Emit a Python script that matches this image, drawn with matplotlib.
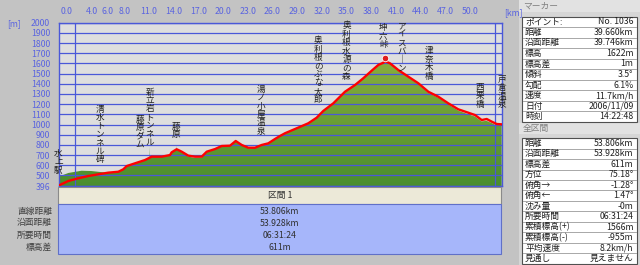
import numpy as np
import matplotlib
matplotlib.use('Agg')
import matplotlib.pyplot as plt
from matplotlib.patches import Rectangle
from matplotlib.colors import LinearSegmentedColormap
import matplotlib.transforms as mtrans

plt.rcParams['font.family'] = ['Noto Sans CJK JP', 'DejaVu Sans']

# GPS track (red) - distance km / elevation m
track_km = [0.0, 1.19, 2.41, 3.62, 4.84, 6.05, 7.27, 7.87, 8.29, 9.30, 10.51, 11.32, 12.54,
            13.55, 13.75, 14.36, 14.97, 15.77, 16.59, 17.40, 18.01, 19.02, 19.83, 20.84,
            21.53, 22.26, 23.06, 23.88, 24.69, 25.49, 26.31, 26.91, 27.52, 28.74, 30.35,
            31.37, 32.17, 33.39, 34.81, 36.03, 37.03, 38.06, 38.86, 39.47, 39.66, 40.28,
            41.29, 42.50, 43.72, 44.93, 46.15, 47.36, 48.58, 49.79, 50.61, 51.42, 52.03,
            52.64, 53.24, 53.80]
track_m = [400, 445, 472, 494, 511, 527, 536, 560, 592, 619, 651, 684, 684,
           700, 727, 757, 733, 694, 684, 684, 733, 759, 789, 792,
           838, 799, 772, 772, 799, 815, 858, 887, 914, 956, 1012,
           1067, 1133, 1208, 1322, 1388, 1454, 1529, 1585, 1607, 1622, 1601,
           1535, 1470, 1405, 1322, 1273, 1208, 1149, 1116, 1093, 1044, 1054,
           1028, 1005, 1002]

# terrain profile (green fill)
ground_km = [0, 1.2, 2.8, 4.0, 5.6, 6.9, 7.9, 8.3, 9.3, 10.5, 11.0, 11.03, 11.06, 11.3, 12.5,
             13.55, 13.75, 14.33, 14.36, 14.39, 14.97, 15.77, 16.59, 17.4, 18.0, 19.0, 19.8,
             20.8, 21.5, 22.3, 23.1, 23.9, 24.7, 25.5, 26.3, 26.9, 27.5, 28.7, 30.35, 31.4,
             32.2, 33.4, 34.8, 36.0, 37.0, 38.1, 38.9, 39.5, 39.66, 40.3, 41.3, 42.5, 43.7,
             44.9, 46.2, 47.4, 48.6, 49.8, 50.6, 51.4, 52.0, 52.6, 53.2, 53.85]
ground_m = [487, 524, 546, 543, 529, 534, 558, 590, 617, 648, 670, 782, 670, 680, 680,
            697, 724, 750, 789, 750, 728, 684, 672, 674, 728, 757, 787,
            790, 835, 795, 765, 768, 797, 812, 855, 884, 910, 952, 1008, 1063,
            1128, 1204, 1318, 1384, 1450, 1525, 1580, 1603, 1618, 1595, 1528, 1462, 1396,
            1313, 1262, 1196, 1135, 1100, 1078, 1030, 1036, 1015, 990, 985]

ytick_vals = [396] + list(range(500, 2001, 100))
xlabel_km = [1.0, 4, 6, 8, 11, 14, 17, 20, 23, 26, 29, 32, 35, 38, 41, 44, 47, 50]
xlabel_txt = ['0.0', '4.0', '6.0', '8.0', '11.0', '14.0', '17.0', '20.0', '23.0', '26.0',
              '29.0', '32.0', '35.0', '38.0', '41.0', '44.0', '47.0', '50.0']
xgrid_km = [2, 4, 6, 8, 11, 14, 17, 20, 23, 26, 29, 32, 35, 38, 41, 44, 47, 50, 53]

# place names: label, km, top pixel
place_names = ['水上駅', '清水トンネル碑', '藤原ダム', '新立岩トンネル', '藤原', '湯ノ小屋温泉',
               '奥利根のぶな太郎', '奥利根水源の森', '坤六峠', 'アイス｜ン', '津奈木橋', '西栗橋', '戸倉温泉']
place_names[9] = 'アイスバ｜ン'
place_km = [0.0, 5.04, 9.9, 11.1, 14.3, 24.6, 31.57, 35.0, 39.47, 41.7, 45.05, 51.2, 53.9]
place_top = [149, 105, 115, 88, 122, 85, 36.7, 21.7, 23.3, 21.7, 46.7, 83.3, 75]

peak_km = 39.66
peak_m = 1622

section_rows = ['直線距離', '沿面距離', '所要時間', '標高差']
section_vals = ['53.806km', '53.928km', '06:31:24', '611m']

marker_labels = ['ポイント:', '距離', '沿面距離', '標高', '標高差', '傾斜', '勾配', '速度', '日付', '時刻']
marker_vals = ['No. 1036', '39.660km', '39.746km', '1622m', '1m', '3.5°', '6.1%', '11.7km/h',
               '2006/11/09', '14:22:48']
total_labels = ['距離', '沿面距離', '標高差', '方位', '俯角→', '俯角←', '沈み量', '所要時間',
                '累積標高(+)', '累積標高(-)', '平均速度', '見通し']
total_vals = ['53.806km', '53.928km', '611m', '75.18°', '-1.28°', '1.47°', '-0m', '06:31:24',
              '1566m', '-955m', '8.2km/h', '見えません']

W, H = 640, 265
fig = plt.figure(figsize=(6.4, 2.65), dpi=100, facecolor='#c3c3c3')


def rect(x0, y0, x1, y1, **kw):
    fig.add_artist(Rectangle((x0 / W, 1 - y1 / H), (x1 - x0) / W, (y1 - y0) / H,
                             transform=fig.transFigure, **kw))


def txt(x, y, s, **kw):
    fig.text(x / W, 1 - y / H, s, **kw)


blue = '#4a58d8'
lbl_blue = '#5a64e0'

ax = fig.add_axes([58.5 / W, 1 - 186 / H, (501.7 - 58.5) / W, (186 - 22.7) / H])
ax.set_facecolor('#dedede')
ax.set_xlim(0, 53.85)
ax.set_ylim(396, 2000)

# green gradient fill clipped to the profile
poly = ax.fill_between(ground_km, ground_m, 396, facecolor='none', edgecolor='none')
cmap = LinearSegmentedColormap.from_list('g', ['#4a8e2e', '#6a9e34', '#8aae3e'])
grad = np.linspace(0, 1, 256).reshape(-1, 1)
im = ax.imshow(grad, cmap=cmap, extent=[0, 53.85, 396, 1650], origin='lower',
               aspect='auto', zorder=1)
im.set_clip_path(poly.get_paths()[0], ax.transData)

ax.plot(track_km, track_m, color='#ff0000', lw=1.7, zorder=4, solid_joinstyle='round')
ax.scatter([peak_km], [peak_m + 35], s=22, color='#e02020', edgecolor='#ffffff', lw=0.6, zorder=5)

ax.set_yticks(ytick_vals)
ax.set_yticklabels([str(v) for v in ytick_vals])
ax.xaxis.tick_top()
ax.set_xticks(xlabel_km)
ax.set_xticklabels(xlabel_txt)
ax.set_xticks(xgrid_km, minor=True)
ax.tick_params(axis='both', which='both', length=0, labelsize=6.3, colors=lbl_blue)
ax.tick_params(axis='y', pad=6)
ax.tick_params(axis='x', pad=5)
ax.grid(which='major', axis='y', color=blue, lw=0.9, zorder=3)
ax.grid(which='minor', axis='x', color=blue, lw=0.9, zorder=3)
ax.grid(which='major', axis='x', visible=False)
ax.set_axisbelow(False)
for sp in ax.spines.values():
    sp.set_color(blue)
    sp.set_linewidth(1.0)

txt(7, 24, '[m]', color=lbl_blue, fontsize=6.3, va='center')
txt(504, 12.5, '[km]', color=lbl_blue, fontsize=6.3, va='center')

# vertical place names
bt = mtrans.blended_transform_factory(ax.transData, fig.transFigure)
for name, km, top in zip(place_names, place_km, place_top):
    for i, ch in enumerate(name):
        ax.text(km, 1 - (top + 4.2 + i * 8.4) / H, ch, transform=bt, fontsize=6.2,
                ha='center', va='center', color='#202020', zorder=6, clip_on=False)

# bottom section table
rect(58.3, 187.3, 501, 203.5, facecolor='#ece9d8', edgecolor='#8a8a8a', lw=0.8)
txt(279.7, 195.5, '区間 1', fontsize=6.3, ha='center', va='center', color='#303030')
rect(58.3, 203.5, 501, 254, facecolor='#a6b6fa', edgecolor='#6070c8', lw=0.8)
for i, (lab, val) in enumerate(zip(section_rows, section_vals)):
    y = 211 + i * 12
    txt(52, y, lab, fontsize=6.3, ha='right', va='center', color='#404040')
    txt(279.7, y, val, fontsize=6.3, ha='center', va='center', color='#303030')

# right panel
rect(519, 0, 640, 265, facecolor='#d6d6d6', edgecolor='none')
rect(519, 0, 640, 12, facecolor='#e2e2e2', edgecolor='none')
txt(523, 6, 'マーカー', fontsize=6.3, va='center', color='#808080')
rect(519, 123, 640, 134, facecolor='#e2e2e2', edgecolor='none')
txt(523, 128.5, '全区間', fontsize=6.3, va='center', color='#808080')


def panel(labels, vals, top, step):
    bottom = top + step * len(labels)
    rect(522, top, 636.5, bottom, facecolor='#ffffff', edgecolor='#505050', lw=0.8)
    for i, (lab, val) in enumerate(zip(labels, vals)):
        y0 = top + i * step
        if i > 0:
            fig.add_artist(plt.Line2D([522.5 / W, 636 / W], [1 - y0 / H, 1 - y0 / H],
                                      transform=fig.transFigure, color='#9a9a9a', lw=0.6))
        txt(525, y0 + step / 2, lab, fontsize=6.3, va='center', color='#202020')
        txt(633.5, y0 + step / 2, val, fontsize=6.3, va='center', ha='right', color='#202020')


panel(marker_labels, marker_vals, 16.5, 10.55)
panel(total_labels, total_vals, 138.2, 10.45)

fig.savefig('out.png', dpi=100, facecolor=fig.get_facecolor())
